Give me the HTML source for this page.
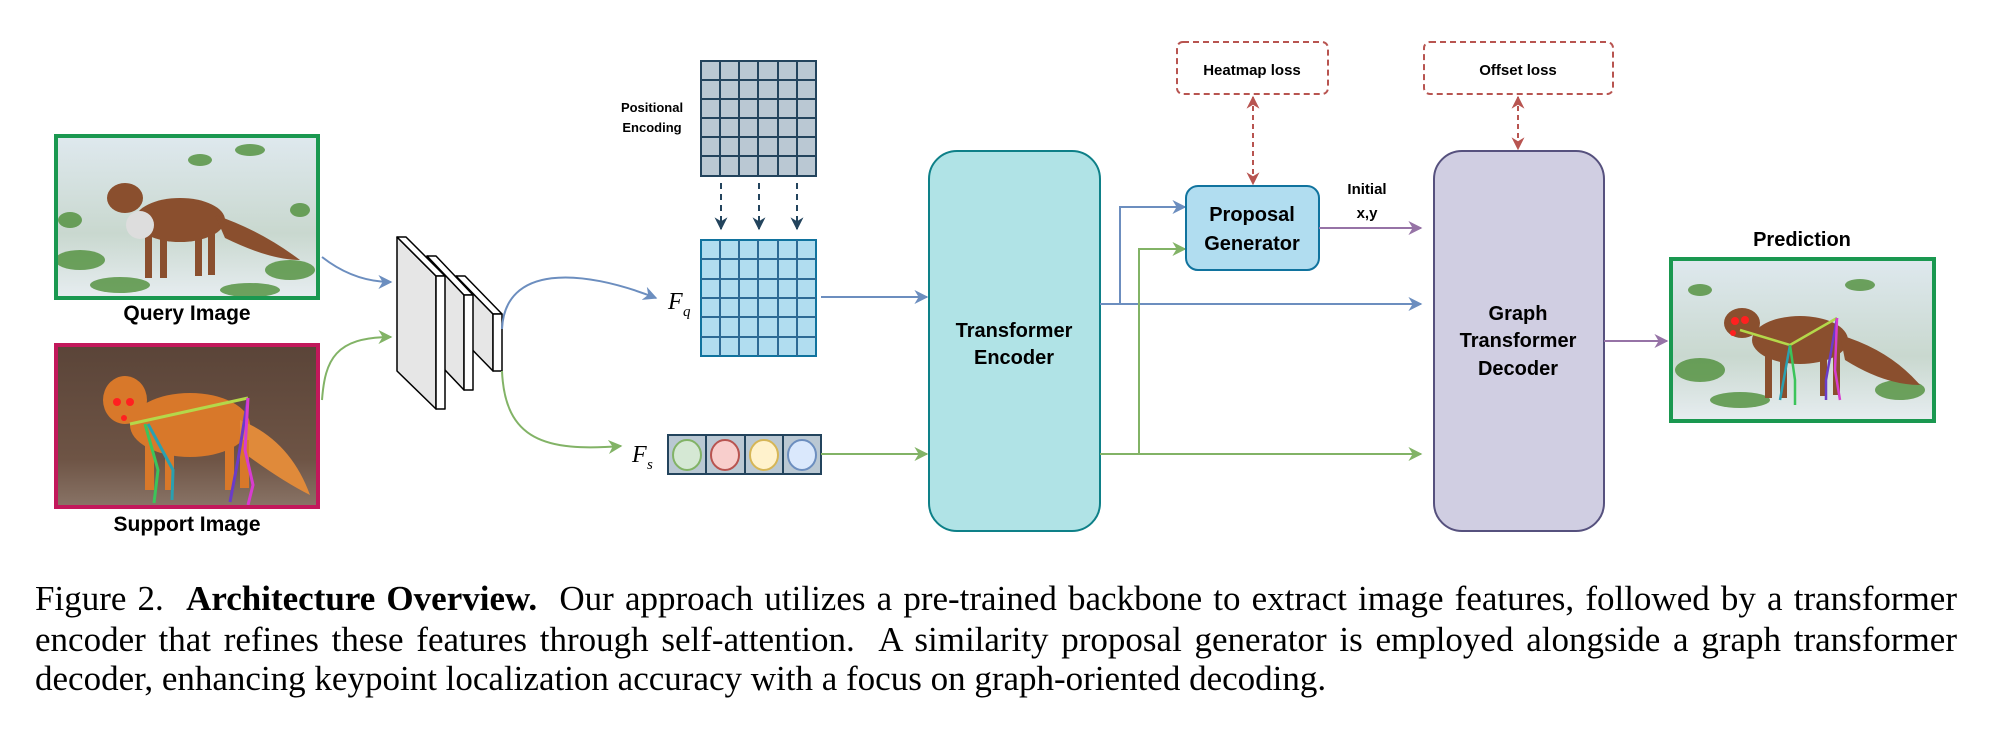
<!DOCTYPE html>
<html><head><meta charset="utf-8">
<style>
html,body{margin:0;padding:0;background:#fff;}
body{width:2000px;height:739px;position:relative;overflow:hidden;}
svg{position:absolute;left:0;top:0;}
.cap{position:absolute;left:35px;width:1922px;font-family:"Liberation Serif",serif;font-size:35px;line-height:40px;color:#000;white-space:nowrap;}
.j{text-align:justify;text-align-last:justify;white-space:normal;}
</style></head><body>
<svg width="2000" height="560" viewBox="0 0 2000 560" font-family="Liberation Sans, sans-serif">
<defs>
<marker id="ag" viewBox="0 0 10 10" refX="9" refY="5" markerWidth="14" markerHeight="14" orient="auto" markerUnits="userSpaceOnUse"><path d="M0,0 L10,5 L0,10 L3,5z" fill="#82b366"/></marker>
<marker id="ab2" viewBox="0 0 10 10" refX="9" refY="5" markerWidth="14" markerHeight="14" orient="auto" markerUnits="userSpaceOnUse"><path d="M0,0 L10,5 L0,10 L3,5z" fill="#6c8ebf"/></marker>
<marker id="ap" viewBox="0 0 10 10" refX="9" refY="5" markerWidth="14" markerHeight="14" orient="auto" markerUnits="userSpaceOnUse"><path d="M0,0 L10,5 L0,10 L3,5z" fill="#9673a6"/></marker>
<marker id="ar" viewBox="0 0 10 10" refX="9" refY="5" markerWidth="13" markerHeight="13" orient="auto-start-reverse" markerUnits="userSpaceOnUse"><path d="M0,0 L10,5 L0,10 L3,5z" fill="#b85450"/></marker>
<marker id="an" viewBox="0 0 10 10" refX="9" refY="5" markerWidth="13" markerHeight="13" orient="auto" markerUnits="userSpaceOnUse"><path d="M0,0 L10,5 L0,10 L3,5z" fill="#23445d"/></marker>
<linearGradient id="snow" x1="0" y1="0" x2="0" y2="1"><stop offset="0" stop-color="#dfe9ef"/><stop offset="0.6" stop-color="#c9d8cf"/><stop offset="1" stop-color="#e8eef2"/></linearGradient>
<linearGradient id="forest" x1="0" y1="0" x2="0" y2="1"><stop offset="0" stop-color="#5a4438"/><stop offset="0.7" stop-color="#6e5445"/><stop offset="1" stop-color="#8a7568"/></linearGradient>
</defs>

<rect x="54" y="134" width="266" height="166" fill="url(#snow)"/>
<g fill="#4f8f3a" opacity="0.8">
<ellipse cx="80" cy="260" rx="25" ry="10"/><ellipse cx="120" cy="285" rx="30" ry="8"/><ellipse cx="290" cy="270" rx="25" ry="10"/><ellipse cx="250" cy="290" rx="30" ry="7"/><ellipse cx="200" cy="160" rx="12" ry="6"/><ellipse cx="250" cy="150" rx="15" ry="6"/><ellipse cx="70" cy="220" rx="12" ry="8"/><ellipse cx="300" cy="210" rx="10" ry="7"/>
</g>
<g fill="#8a4f2e"><ellipse cx="180" cy="220" rx="45" ry="22"/><ellipse cx="125" cy="198" rx="18" ry="15"/><path d="M215,215 Q260,230 300,260 Q270,260 225,238z"/><rect x="145" y="230" width="7" height="48"/><rect x="160" y="232" width="7" height="46"/><rect x="195" y="232" width="7" height="44"/><rect x="208" y="230" width="7" height="45"/></g>
<ellipse cx="140" cy="225" rx="14" ry="14" fill="#ddd"/>
<rect x="56" y="136" width="262" height="162" fill="none" stroke="#1a9850" stroke-width="4"/>
<text x="187" y="320" font-size="21" font-weight="bold" text-anchor="middle">Query Image</text>

<rect x="54" y="343" width="266" height="166" fill="url(#forest)"/>
<g fill="#d8782a"><ellipse cx="190" cy="425" rx="60" ry="32"/><ellipse cx="125" cy="400" rx="22" ry="24"/><path d="M240,420 Q290,440 310,495 Q280,480 240,450z" fill="#e08a3a"/><rect x="145" y="440" width="9" height="50"/><rect x="165" y="440" width="9" height="50"/><rect x="225" y="440" width="9" height="50"/><rect x="240" y="440" width="9" height="48"/></g>
<g fill="none" stroke-width="3"><path d="M130,424 L248,398" stroke="#b4d84a"/><path d="M145,424 L158,470 L154,503" stroke="#3cc45a"/><path d="M148,424 L173,470 L172,500" stroke="#2aa0b0"/><path d="M248,398 L238,460 L230,502" stroke="#6a3cc8"/><path d="M248,398 L245,450 L253,485 L248,505" stroke="#d83cd0"/></g>
<g fill="#ff2020"><circle cx="117" cy="402" r="4"/><circle cx="130" cy="402" r="4"/><circle cx="124" cy="418" r="3"/></g>
<rect x="56" y="345" width="262" height="162" fill="none" stroke="#c2185b" stroke-width="4"/>
<text x="187" y="531" font-size="21" font-weight="bold" text-anchor="middle">Support Image</text>

<path d="M322,257 C345,275 368,282 391,282" fill="none" stroke="#6c8ebf" stroke-width="2" marker-end="url(#ab2)"/>
<path d="M322,400 C325,360 335,337 391,337" fill="none" stroke="#82b366" stroke-width="2" marker-end="url(#ag)"/>

<g stroke="#000" stroke-width="1.5" stroke-linejoin="round">
<polygon points="456,276 493,314 493,371 456,333" fill="#e6e6e6"/>
<polygon points="456,276 465,276 502,314 493,314" fill="#fff"/>
<rect x="493" y="314" width="9" height="57" fill="#fff"/>
<polygon points="427,256 464,295 464,390 427,351" fill="#e6e6e6"/>
<polygon points="427,256 436,256 473,295 464,295" fill="#fff"/>
<rect x="464" y="295" width="9" height="95" fill="#fff"/>
<polygon points="397,237 436,276 436,409 397,371" fill="#e6e6e6"/>
<polygon points="397,237 406,237 445,276 436,276" fill="#fff"/>
<rect x="436" y="276" width="9" height="133" fill="#fff"/>
</g>

<path d="M502,329 C505,265 580,268 656,298" fill="none" stroke="#6c8ebf" stroke-width="2" marker-end="url(#ab2)"/>
<path d="M502,371 C505,440 545,452 621,446" fill="none" stroke="#82b366" stroke-width="2" marker-end="url(#ag)"/>

<rect x="701" y="61" width="115" height="115" fill="#bac8d3" stroke="#23445d" stroke-width="2"/>
<g stroke="#23445d" stroke-width="2">
<line x1="720" y1="61" x2="720" y2="176"/><line x1="739" y1="61" x2="739" y2="176"/><line x1="758" y1="61" x2="758" y2="176"/><line x1="778" y1="61" x2="778" y2="176"/><line x1="797" y1="61" x2="797" y2="176"/>
<line x1="701" y1="80" x2="816" y2="80"/><line x1="701" y1="99" x2="816" y2="99"/><line x1="701" y1="118" x2="816" y2="118"/><line x1="701" y1="137" x2="816" y2="137"/><line x1="701" y1="156" x2="816" y2="156"/>
</g>
<text x="652" y="112" font-size="13" font-weight="bold" text-anchor="middle">Positional</text>
<text x="652" y="132" font-size="13" font-weight="bold" text-anchor="middle">Encoding</text>
<g stroke="#23445d" stroke-width="2" stroke-dasharray="6,5" fill="none">
<line x1="721" y1="183" x2="721" y2="229" marker-end="url(#an)"/><line x1="759" y1="183" x2="759" y2="229" marker-end="url(#an)"/><line x1="797" y1="183" x2="797" y2="229" marker-end="url(#an)"/>
</g>

<rect x="701" y="240" width="115" height="116" fill="#b1ddf0" stroke="#10739e" stroke-width="2"/>
<g stroke="#2d6a95" stroke-width="2">
<line x1="720" y1="240" x2="720" y2="356"/><line x1="739" y1="240" x2="739" y2="356"/><line x1="758" y1="240" x2="758" y2="356"/><line x1="778" y1="240" x2="778" y2="356"/><line x1="797" y1="240" x2="797" y2="356"/>
<line x1="701" y1="259" x2="816" y2="259"/><line x1="701" y1="279" x2="816" y2="279"/><line x1="701" y1="298" x2="816" y2="298"/><line x1="701" y1="317" x2="816" y2="317"/><line x1="701" y1="337" x2="816" y2="337"/>
</g>
<text x="668" y="309" font-size="24" font-style="italic" font-family="Liberation Serif, serif">F</text>
<text x="683" y="316" font-size="15" font-style="italic" font-family="Liberation Serif, serif">q</text>

<rect x="668" y="435" width="153" height="39" fill="#bac8d3" stroke="#23445d" stroke-width="2"/>
<g stroke="#23445d" stroke-width="2"><line x1="706" y1="435" x2="706" y2="474"/><line x1="745" y1="435" x2="745" y2="474"/><line x1="783" y1="435" x2="783" y2="474"/></g>
<ellipse cx="687" cy="455" rx="14" ry="15" fill="#d5e8d4" stroke="#82b366" stroke-width="2"/>
<ellipse cx="725" cy="455" rx="14" ry="15" fill="#f8cecc" stroke="#b85450" stroke-width="2"/>
<ellipse cx="764" cy="455" rx="14" ry="15" fill="#fff2cc" stroke="#d6b656" stroke-width="2"/>
<ellipse cx="802" cy="455" rx="14" ry="15" fill="#dae8fc" stroke="#6c8ebf" stroke-width="2"/>
<text x="632" y="462" font-size="24" font-style="italic" font-family="Liberation Serif, serif">F</text>
<text x="647" y="469" font-size="15" font-style="italic" font-family="Liberation Serif, serif">s</text>

<line x1="821" y1="297" x2="927" y2="297" stroke="#6c8ebf" stroke-width="2" marker-end="url(#ab2)"/>
<line x1="821" y1="454" x2="927" y2="454" stroke="#82b366" stroke-width="2" marker-end="url(#ag)"/>

<rect x="929" y="151" width="171" height="380" rx="28" fill="#b0e3e6" stroke="#0e8088" stroke-width="2"/>
<text x="1014" y="337" font-size="20" font-weight="bold" text-anchor="middle">Transformer</text>
<text x="1014" y="364" font-size="20" font-weight="bold" text-anchor="middle">Encoder</text>

<path d="M1100,304 L1421,304" fill="none" stroke="#6c8ebf" stroke-width="2" marker-end="url(#ab2)"/>
<path d="M1120,304 L1120,207 L1185,207" fill="none" stroke="#6c8ebf" stroke-width="2" marker-end="url(#ab2)"/>
<path d="M1100,454 L1421,454" fill="none" stroke="#82b366" stroke-width="2" marker-end="url(#ag)"/>
<path d="M1139,454 L1139,249 L1185,249" fill="none" stroke="#82b366" stroke-width="2" marker-end="url(#ag)"/>

<rect x="1177" y="42" width="151" height="52" rx="6" fill="#fff" stroke="#b85450" stroke-width="2" stroke-dasharray="6,4"/>
<text x="1252" y="75" font-size="15" font-weight="bold" text-anchor="middle">Heatmap loss</text>
<line x1="1253" y1="97" x2="1253" y2="184" stroke="#b85450" stroke-width="2" stroke-dasharray="5,4" marker-start="url(#ar)" marker-end="url(#ar)"/>

<rect x="1424" y="42" width="189" height="52" rx="6" fill="#fff" stroke="#b85450" stroke-width="2" stroke-dasharray="6,4"/>
<text x="1518" y="75" font-size="15" font-weight="bold" text-anchor="middle">Offset loss</text>
<line x1="1518" y1="97" x2="1518" y2="149" stroke="#b85450" stroke-width="2" stroke-dasharray="5,4" marker-start="url(#ar)" marker-end="url(#ar)"/>

<rect x="1186" y="186" width="133" height="84" rx="12" fill="#b1ddf0" stroke="#10739e" stroke-width="2"/>
<text x="1252" y="221" font-size="20" font-weight="bold" text-anchor="middle">Proposal</text>
<text x="1252" y="250" font-size="20" font-weight="bold" text-anchor="middle">Generator</text>
<text x="1367" y="194" font-size="15" font-weight="bold" text-anchor="middle">Initial</text>
<text x="1367" y="218" font-size="15" font-weight="bold" text-anchor="middle">x,y</text>
<line x1="1319" y1="228" x2="1421" y2="228" stroke="#9673a6" stroke-width="2" marker-end="url(#ap)"/>

<rect x="1434" y="151" width="170" height="380" rx="28" fill="#d0cee2" stroke="#56517e" stroke-width="2"/>
<text x="1518" y="320" font-size="20" font-weight="bold" text-anchor="middle">Graph</text>
<text x="1518" y="347" font-size="20" font-weight="bold" text-anchor="middle">Transformer</text>
<text x="1518" y="375" font-size="20" font-weight="bold" text-anchor="middle">Decoder</text>
<line x1="1604" y1="341" x2="1667" y2="341" stroke="#9673a6" stroke-width="2" marker-end="url(#ap)"/>

<text x="1802" y="246" font-size="20" font-weight="bold" text-anchor="middle">Prediction</text>
<rect x="1669" y="257" width="267" height="166" fill="url(#snow)"/>
<g fill="#4f8f3a" opacity="0.8"><ellipse cx="1700" cy="370" rx="25" ry="12"/><ellipse cx="1740" cy="400" rx="30" ry="8"/><ellipse cx="1900" cy="390" rx="25" ry="10"/><ellipse cx="1860" cy="285" rx="15" ry="6"/><ellipse cx="1700" cy="290" rx="12" ry="6"/></g>
<g fill="#8a4f2e"><ellipse cx="1800" cy="340" rx="48" ry="24"/><ellipse cx="1742" cy="323" rx="18" ry="15"/><path d="M1840,335 Q1890,350 1920,385 Q1885,385 1845,360z"/><rect x="1765" y="350" width="7" height="48"/><rect x="1780" y="352" width="7" height="46"/><rect x="1820" y="352" width="7" height="44"/><rect x="1833" y="350" width="7" height="45"/></g>
<g fill="none" stroke-width="2.5"><path d="M1740,330 L1790,345 L1837,318" stroke="#b4d84a"/><path d="M1790,345 L1780,400" stroke="#2aa0b0"/><path d="M1790,345 L1795,380 L1795,405" stroke="#3cc45a"/><path d="M1837,318 L1826,380 L1826,400" stroke="#6a3cc8"/><path d="M1837,318 L1835,370 L1840,400" stroke="#d83cd0"/></g>
<g fill="#ff2020"><circle cx="1735" cy="321" r="4"/><circle cx="1745" cy="320" r="4"/><circle cx="1733" cy="333" r="3"/></g>
<rect x="1671" y="259" width="263" height="162" fill="none" stroke="#1a9850" stroke-width="4"/>
</svg>

<div class="cap" style="top:579px"><div class="j">Figure 2.&nbsp; <b>Architecture Overview.</b>&nbsp; Our approach utilizes a pre-trained backbone to extract image features, followed by a transformer</div></div>
<div class="cap" style="top:620px"><div class="j">encoder that refines these features through self-attention.&nbsp; A similarity proposal generator is employed alongside a graph transformer</div></div>
<div class="cap" style="top:659px">decoder, enhancing keypoint localization accuracy with a focus on graph-oriented decoding.</div>
</body></html>
